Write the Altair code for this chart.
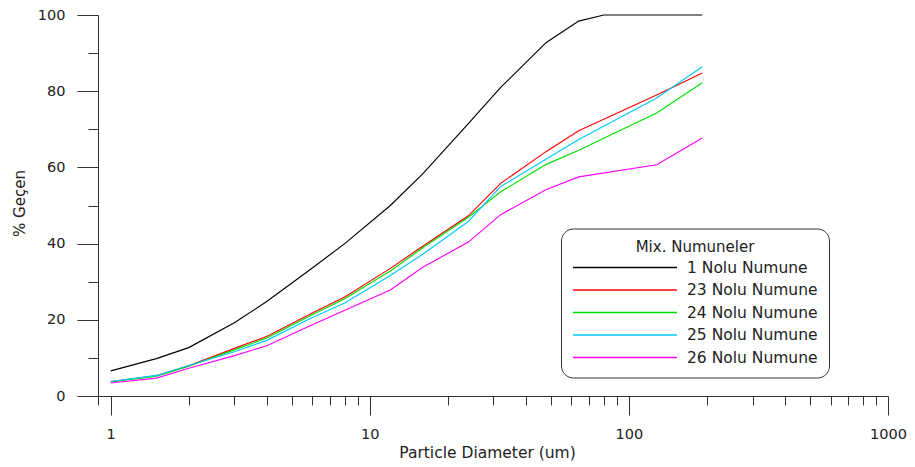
import altair as alt
import pandas as pd

# ---- data ----
SERIES = ["1 Nolu Numune", "23 Nolu Numune", "24 Nolu Numune", "25 Nolu Numune", "26 Nolu Numune"]
COLORS = ["#000000", "#ff0000", "#00e000", "#00c8ff", "#ff00ff"]

SIZES = [1, 1.5, 2, 3, 4, 6, 8, 12, 16, 24, 32, 48, 64, 128, 192]
BLACK_SIZES = [1, 1.5, 2, 3, 4, 6, 8, 12, 16, 24, 32, 48, 64, 80, 128, 192]

N1 = [6.6, 9.8, 12.7, 19.2, 24.8, 33.6, 40.0, 50.0, 58.3, 71.5, 81.0, 92.8, 98.4, 100, 100, 100]
N23 = [3.8, 5.3, 7.9, 12.5, 15.6, 21.8, 26.0, 33.5, 39.3, 47.3, 55.8, 64.2, 69.6, 79.0, 84.8]
N24 = [3.7, 5.2, 7.8, 12.1, 15.2, 21.3, 25.5, 32.8, 38.9, 46.9, 53.6, 60.8, 64.5, 74.3, 82.2]
N25 = [3.8, 5.4, 8.0, 11.6, 14.6, 20.6, 24.4, 31.6, 37.2, 45.8, 55.0, 62.2, 67.3, 78.2, 86.4]
N26 = [3.4, 4.7, 7.3, 10.6, 13.2, 18.7, 22.5, 27.8, 33.8, 40.4, 47.6, 54.2, 57.5, 60.7, 67.7]

X_MIN = 0.893
X_MAX = 1000
X_MAJOR = [1, 10, 100, 1000]
X_MINOR = [X_MIN, 2, 3, 4, 5, 6, 7, 8, 9, 20, 30, 40, 50, 60, 70, 80, 90,
           200, 300, 400, 500, 600, 700, 800, 900]
Y_MAJOR = [0, 20, 40, 60, 80, 100]
Y_MINOR = [10, 30, 50, 70, 90]

rows = []
for name, xs, ys in zip(SERIES, [BLACK_SIZES, SIZES, SIZES, SIZES, SIZES], [N1, N23, N24, N25, N26]):
    for x, y in zip(xs, ys):
        rows.append({"series": name, "size": x, "pct": y})
df = pd.DataFrame(rows)

FONT = "DejaVu Sans"
TXT = "#222222"
AXC = "#333333"

xscale = alt.Scale(type="log", domain=[X_MIN, X_MAX], nice=False)
yscale = alt.Scale(domain=[0, 100], nice=False)

lines = alt.Chart(df).mark_line(strokeWidth=1.15).encode(
    x=alt.X("size:Q", scale=xscale,
            axis=alt.Axis(values=X_MAJOR, format="d", tickSize=19, labelPadding=12,
                          labelFont=FONT, labelFontSize=14.5, labelColor=TXT,
                          title="Particle Diameter (um)", titleFont=FONT, titleFontSize=15.5,
                          titleFontWeight="normal", titleColor=TXT, titleX=389, titleY=61,
                          titleBaseline="alphabetic", titleAlign="center",
                          orient="bottom", grid=False, domainColor=AXC, tickColor=AXC,
                          labelFlush=False, labelOverlap=False)),
    y=alt.Y("pct:Q", scale=yscale,
            axis=alt.Axis(values=Y_MAJOR, format="d", tickSize=21, labelPadding=12,
                          labelFont=FONT, labelFontSize=14.5, labelColor=TXT,
                          title="% Geçen", titleFont=FONT, titleFontSize=15,
                          titleFontWeight="normal", titleColor=TXT, titleX=-74, titleY=188,
                          titleBaseline="alphabetic", titleAlign="center", titleAngle=270,
                          orient="left", grid=False, domainColor=AXC, tickColor=AXC,
                          labelFlush=False, labelOverlap=False)),
    color=alt.Color("series:N", scale=alt.Scale(domain=SERIES, range=COLORS),
                    legend=alt.Legend(title="Mix. Numuneler", orient="none",
                                      legendX=463, legendY=213.5,
                                      symbolType="stroke", symbolSize=10816,
                                      symbolStrokeWidth=1.3, clipHeight=14,
                                      rowPadding=6.5, labelOffset=9, padding=11,
                                      cornerRadius=12, strokeColor="#333333",
                                      fillColor="white", titleAnchor="middle",
                                      titleFont=FONT, titleFontSize=15,
                                      titleFontWeight="normal", titleColor=TXT,
                                      titlePadding=6, labelFont=FONT,
                                      labelFontSize=15.5, labelColor=TXT)),
)

minor = alt.Chart(df).mark_line(opacity=0).encode(
    x=alt.X("size:Q", scale=xscale,
            axis=alt.Axis(values=X_MINOR, tickSize=9, labels=False, domain=False, title="",
                          orient="bottom", grid=False, tickColor=AXC)),
    y=alt.Y("pct:Q", scale=yscale,
            axis=alt.Axis(values=Y_MINOR, tickSize=10, labels=False, domain=False, title="",
                          orient="left", grid=False, tickColor=AXC)),
    detail="series:N",
)

chart = (
    alt.layer(lines, minor)
    .resolve_axis(x="independent", y="independent")
    .properties(width=790, height=381,
                padding={"left": 98, "top": 15, "right": 27, "bottom": 71},
                autosize=alt.AutoSizeParams(type="none"),
                background="white")
    .configure_view(stroke="transparent")
)

chart.save("out.html", embed_options={"renderer": "svg", "actions": False})
